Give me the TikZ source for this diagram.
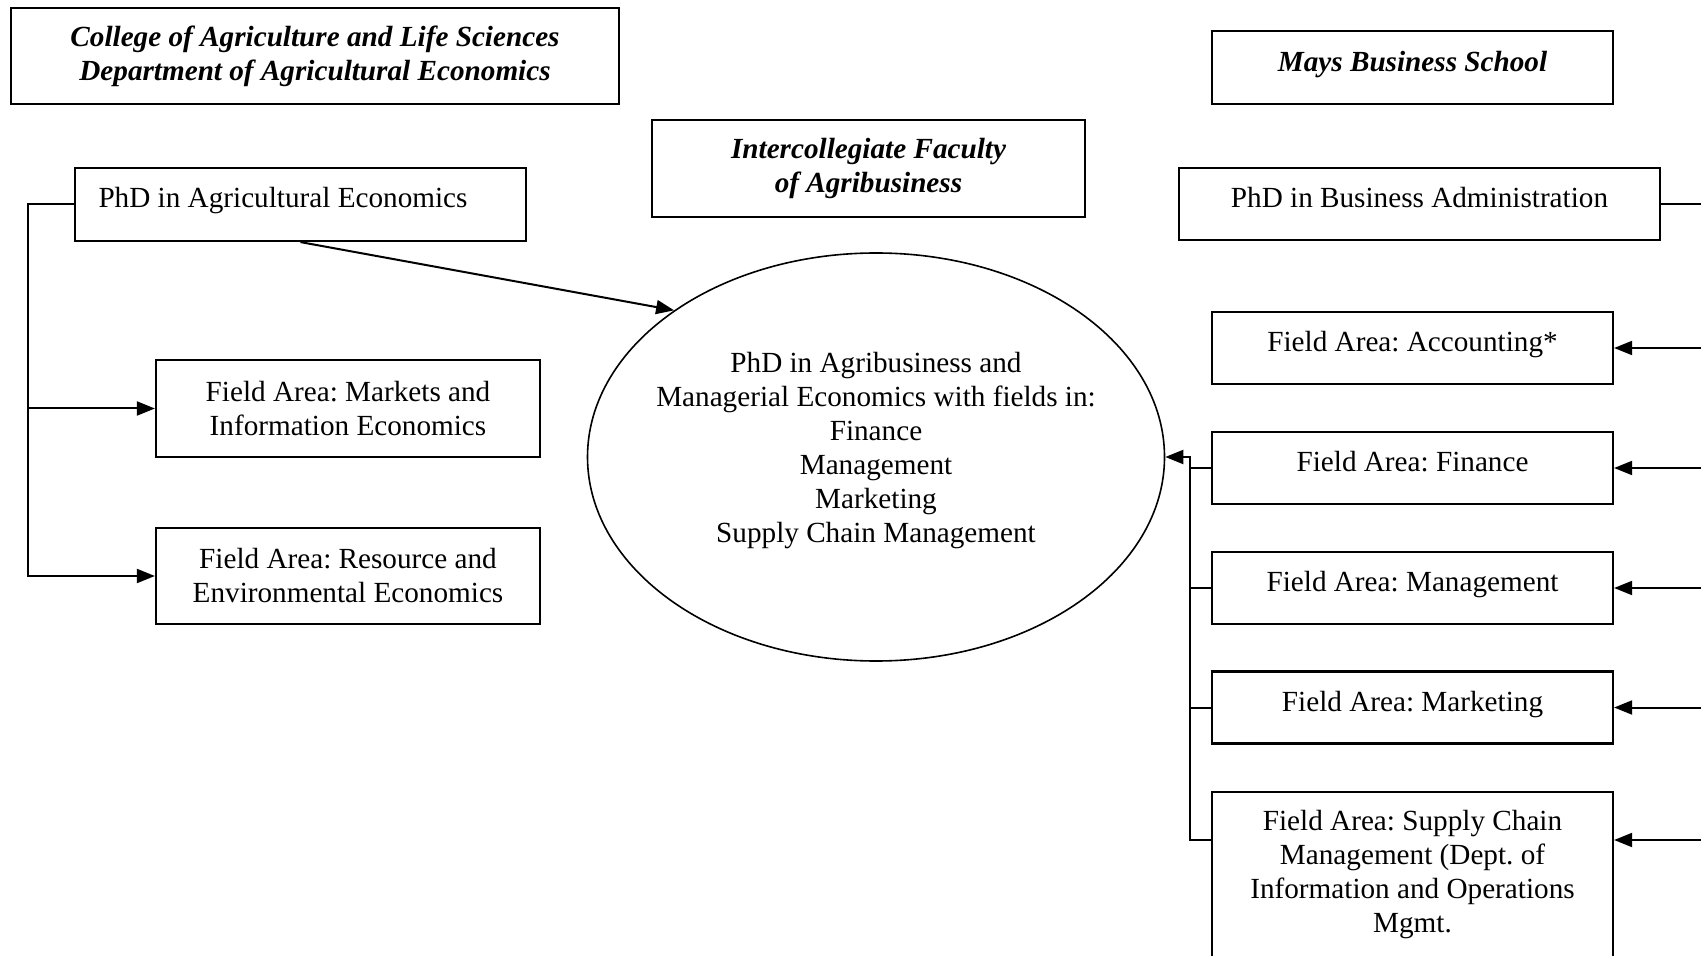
\documentclass[tikz,border=0pt]{standalone}
\usepackage{fontspec}
\setmainfont{Liberation Serif}
\usetikzlibrary{shapes.geometric,arrows.meta}
\frenchspacing

\begin{document}
\begin{tikzpicture}[x=0.5pt, y=-0.5pt,
      every node/.style = {font=\fontsize{14.6}{17}\selectfont, inner sep=0pt},
      fbox/.style = {shape=rectangle, draw, line width=1.1pt, align=center},
      single/.style = {fbox, text height=10pt, text depth=6.5pt},
      head/.style = {fbox, font=\fontsize{14.6}{17}\selectfont\bfseries\itshape},
      arr/.style = {line width=1pt, -{Triangle[length=9pt,width=7pt]}},
      link/.style = {line width=1pt}]
    \useasboundingbox (0,0) rectangle (1701,956);

    % headings
    \node[head, minimum width=304pt, minimum height=48pt] (cals) at (315,56)
      {College of Agriculture and Life Sciences\\Department of Agricultural Economics};
    \node[head, minimum width=216.5pt, minimum height=48.5pt] (ifa) at (868.5,168.5)
      {Intercollegiate Faculty\\of Agribusiness};
    \node[head, minimum width=200.5pt, minimum height=36.5pt,
      text height=10pt, text depth=6pt] (mays) at (1412.5,67.5) {Mays Business School};

    % left side
    \node[single, minimum width=225.5pt, minimum height=36.5pt, text width=202pt,
      align=flush left, inner xsep=11.75pt] (agecon) at (300.5,204.5) {PhD in Agricultural Economics};
    \node[fbox, minimum width=192pt, minimum height=48.5pt] (mie) at (348,408.5)
      {Field Area: Markets and\\Information Economics};
    \node[fbox, minimum width=192pt, minimum height=48pt] (ree) at (348,576)
      {Field Area: Resource and\\Environmental Economics};

    % joint degree
    \node[shape=ellipse, draw, line width=0.8pt,
      minimum width=288.5pt, minimum height=204pt] (agri) at (876,457) {};
    \node[align=center] (agritext) at (876,451)
      {PhD in Agribusiness and\\Managerial Economics with fields in:\\Finance\\Management\\Marketing\\Supply Chain Management};

    % right side
    \node[single, minimum width=240.5pt, minimum height=36pt] (phdba) at (1419.5,204) {PhD in Business Administration};
    \node[single, minimum width=200.5pt, minimum height=36pt] (acc) at (1412.5,348) {Field Area: Accounting*};
    \node[single, minimum width=200.5pt, minimum height=36pt] (fin) at (1412.5,468) {Field Area: Finance};
    \node[single, minimum width=200.5pt, minimum height=36pt] (mgt) at (1412.5,588) {Field Area: Management};
    \node[single, minimum width=200.5pt, minimum height=36pt] (mkt) at (1412.5,707.5) {Field Area: Marketing};
    \node[fbox, anchor=north, minimum width=200.5pt, inner ysep=9pt] (scm) at (1412.5,791)
      {Field Area: Supply Chain\\Management (Dept. of\\Information and Operations\\Mgmt.\\ \mbox{}};

    % connectors
    \coordinate (lb) at (28,0);
    \coordinate (rb) at (1190,0);
    \coordinate (redge) at (1701,0);
    \coordinate (rS) at (1701,840);

    \draw[arr] (agecon.west) -| (lb |- ree) -- (ree.west);
    \draw[arr] (lb |- mie) -- (mie.west);
    \draw[arr] (agecon.south) -- (agri.144);

    \draw[link] (phdba.east) -- (redge |- phdba);
    \foreach \n in {acc,fin,mgt,mkt}
      \draw[arr] (redge |- \n) -- (\n.east);
    \draw[arr] (rS) -- (scm.east |- rS);

    \draw[arr] (scm.west |- rS) -| (rb |- agri) -- (agri.east);
    \foreach \n in {fin,mgt,mkt}
      \draw[link] (\n.west) -- (rb |- \n);
  \end{tikzpicture}
\end{document}
